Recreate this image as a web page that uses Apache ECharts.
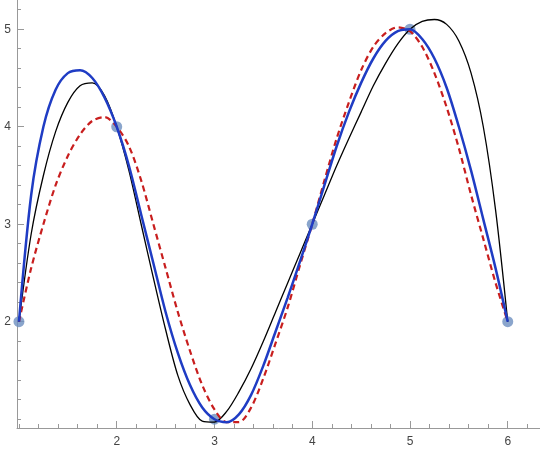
<!DOCTYPE html><html><head><meta charset="utf-8"><script src="https://cdn.jsdelivr.net/npm/echarts@6/dist/echarts.min.js"></script></head><body style="margin:0"><div id="c" style="width:540px;height:451px"></div><script>
const xs=[1,1.125,1.25,1.375,1.5,1.625,1.75,1.875,2,2.125,2.25,2.375,2.5,2.625,2.75,2.875,3,3.125,3.25,3.375,3.5,3.625,3.75,3.875,4,4.125,4.25,4.375,4.5,4.625,4.75,4.875,5,5.125,5.25,5.375,5.5,5.625,5.75,5.875,6];
const black=[2,2.9,3.5,3.95,4.25,4.42,4.45,4.32,4.0,3.55,3.0,2.45,1.92,1.45,1.15,0.98,0.97,1.08,1.28,1.52,1.8,2.1,2.4,2.7,3,3.3,3.6,3.88,4.15,4.42,4.65,4.85,5.0,5.08,5.1,5.05,4.88,4.55,4.0,3.15,2];
const blue=[2,3.3,4.0,4.38,4.55,4.58,4.5,4.3,4.0,3.6,3.1,2.6,2.1,1.68,1.35,1.12,1.0,0.97,1.05,1.25,1.55,1.9,2.25,2.62,3,3.4,3.8,4.15,4.45,4.7,4.88,4.98,5.0,4.9,4.7,4.4,4.0,3.55,3.05,2.55,2];
const red=[2,2.55,3.0,3.4,3.7,3.92,4.06,4.1,4.0,3.8,3.45,3.0,2.55,2.1,1.7,1.35,1.1,0.97,0.97,1.12,1.42,1.78,2.15,2.58,3,3.45,3.88,4.25,4.58,4.82,4.96,5.02,4.98,4.82,4.55,4.2,3.78,3.3,2.85,2.4,2];
const ptsX=[1,2,3,4,5,6], ptsY=[2,4,1,3,5,2];
const xLabels=[2,3,4,5,6], yLabels=[2,3,4,5];
const xMinor=[],yMinor=[];for(let i=5;i<=31;i++)xMinor.push(i/5);for(let i=5;i<=26;i++)yMinor.push(i/5);
const z=(a,b)=>a.map((v,i)=>[v,b[i]]);
const ax={axisLine:{lineStyle:{color:'#999'}},splitLine:{show:false}};
const c=echarts.init(document.getElementById('c'));
c.setOption({animation:false,grid:{left:17,right:0,top:0,bottom:23},
xAxis:[{type:'value',min:0.98,max:6.33,...ax,axisTick:{inside:true,length:7,lineStyle:{color:'#999'},customValues:xLabels},axisLabel:{customValues:xLabels,color:'#444',fontSize:12,margin:8}},
{type:'value',min:0.98,max:6.33,position:'bottom',axisLine:{show:false},splitLine:{show:false},axisTick:{inside:true,length:4,lineStyle:{color:'#999'},customValues:xMinor},axisLabel:{show:false}}],
yAxis:[{type:'value',min:0.91,max:5.3,...ax,axisTick:{inside:true,length:7,lineStyle:{color:'#999'},customValues:yLabels},axisLabel:{customValues:yLabels,color:'#444',fontSize:12,margin:6}},
{type:'value',min:0.91,max:5.3,position:'left',axisLine:{show:false},splitLine:{show:false},axisTick:{inside:true,length:4,lineStyle:{color:'#999'},customValues:yMinor},axisLabel:{show:false}}],
series:[
{type:'line',data:z(xs,black),smooth:0.3,showSymbol:false,lineStyle:{color:'#000',width:1.3},clip:false},
{type:'line',data:z(xs,red),smooth:0.3,showSymbol:false,lineStyle:{color:'#c81e1e',width:2.2,type:[6,4]},clip:false},
{type:'line',data:z(xs,blue),smooth:0.3,showSymbol:false,lineStyle:{color:'#1f3cc4',width:2.5},clip:false},
{type:'scatter',data:z(ptsX,ptsY),symbolSize:11,itemStyle:{color:'#6d8fbf'},clip:false}]});
</script></body></html>
